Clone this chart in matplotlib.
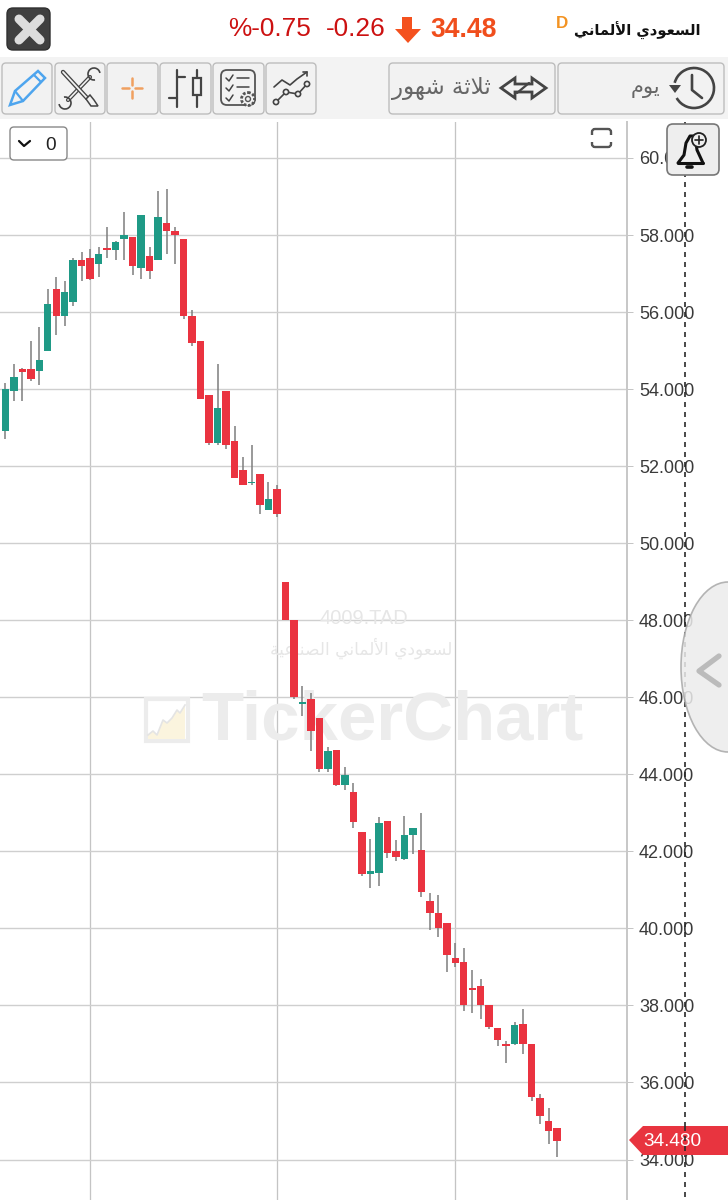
import matplotlib
matplotlib.use("Agg")
import matplotlib.pyplot as plt
from matplotlib.patches import FancyBboxPatch, Circle, Polygon, Ellipse, Arc

# ---- data ----
opens = [52.90,53.95,54.52,54.51,54.46,55.00,56.60,55.90,56.25,57.36,57.40,57.25,57.66,57.60,57.90,57.96,57.15,57.45,57.35,58.31,58.10,57.90,55.90,55.25,53.85,52.60,53.95,52.65,51.90,51.55,51.80,50.85,51.41,
         48.99,48.00,45.82,45.95,45.45,44.14,44.63,43.72,43.55,42.51,41.41,41.44,42.78,42.00,41.80,42.42,42.03,40.71,40.41,40.13,39.24,39.13,38.44,38.51,38.02,37.41,37.00,37.00,37.52,37.00,35.61,34.99,34.81]
highs = [54.15,54.66,54.54,55.24,55.60,56.60,56.90,56.80,57.40,57.55,57.64,57.70,58.21,57.85,58.60,57.96,58.51,57.70,59.15,59.20,58.21,57.90,56.05,55.25,53.85,54.66,53.95,53.05,52.25,52.55,51.80,51.60,51.50,
         48.99,48.00,46.30,46.10,45.45,44.70,44.63,44.20,43.78,42.51,42.32,42.90,42.78,42.29,42.91,42.61,43.00,40.93,40.88,40.13,39.63,39.50,38.92,38.68,38.02,37.41,37.07,37.56,37.90,37.00,35.70,35.34,34.81]
lows = [52.71,53.70,53.70,54.21,54.11,55.00,55.41,55.65,56.16,56.81,56.82,56.91,57.40,57.36,57.36,56.95,56.86,56.86,57.35,57.51,57.26,55.82,55.11,53.75,52.56,52.56,52.45,51.70,51.50,51.51,50.76,50.85,50.69,
        48.00,45.96,45.51,44.61,44.07,44.05,43.69,43.59,42.61,41.35,41.05,41.10,41.84,41.74,41.77,41.94,40.81,39.96,39.78,38.88,39.00,37.86,37.81,37.66,37.39,36.96,36.51,36.97,36.74,35.52,34.93,34.40,34.07]
closes = [54.01,54.31,54.45,54.25,54.75,56.21,55.90,56.51,57.36,57.20,56.85,57.51,57.60,57.81,58.01,57.20,58.51,57.06,58.46,58.10,58.01,55.90,55.20,53.75,52.60,53.50,52.55,51.70,51.50,51.60,51.00,51.15,50.75,
          48.00,46.01,45.89,45.12,44.14,44.61,43.72,43.97,42.77,41.41,41.50,42.74,41.96,41.86,42.42,42.61,40.94,40.40,40.00,39.32,39.10,38.01,38.40,38.01,37.45,37.10,36.96,37.49,37.00,35.63,35.14,34.74,34.48]
price_ticks = [34,36,38,40,42,44,46,48,50,52,54,56,58,60]
date_grid = [10, 32, 53]
last_price = 34.48

name_ar = "السعودي الألماني"
period_ar = "ثلاثة شهور"
interval_ar = "يوم"
company_ar = "لسعودي الألماني الصناعية"
symbol = "4009.TAD"
watermark = "TickerChart"
change_pct = "%-0.75"
change_abs = "-0.26"
price_txt = "34.48"
tag_txt = "34.480"

# ---- Arabic shaping (matplotlib has no shaper) ----
FORMS = {'ا':(0xFE8D,0xFE8E),'أ':(0xFE83,0xFE84),'و':(0xFEED,0xFEEE),'د':(0xFEA9,0xFEAA),'ر':(0xFEAD,0xFEAE),'ة':(0xFE93,0xFE94),
         'ل':(0xFEDD,0xFEDE,0xFEDF,0xFEE0),'س':(0xFEB1,0xFEB2,0xFEB3,0xFEB4),'ع':(0xFEC9,0xFECA,0xFECB,0xFECC),
         'ي':(0xFEF1,0xFEF2,0xFEF3,0xFEF4),'م':(0xFEE1,0xFEE2,0xFEE3,0xFEE4),'ن':(0xFEE5,0xFEE6,0xFEE7,0xFEE8),
         'ث':(0xFE99,0xFE9A,0xFE9B,0xFE9C),'ش':(0xFEB5,0xFEB6,0xFEB7,0xFEB8),'ه':(0xFEE9,0xFEEA,0xFEEB,0xFEEC),
         'ص':(0xFEB9,0xFEBA,0xFEBB,0xFEBC)}
LIG = {'ا':(0xFEFB,0xFEFC),'أ':(0xFEF7,0xFEF8)}
def shape(s):
    out = []
    i = 0
    while i < len(s):
        c = s[i]
        if c not in FORMS:
            out.append(c); i += 1; continue
        prev = s[i-1] if i else ' '
        joined_prev = prev in FORMS and len(FORMS[prev]) == 4
        nxt = s[i+1] if i + 1 < len(s) else ' '
        if c == 'ل' and nxt in LIG:
            out.append(chr(LIG[nxt][1 if joined_prev else 0])); i += 2; continue
        f = FORMS[c]
        joins_next = len(f) == 4 and nxt in FORMS
        idx = (3 if joined_prev else 2) if joins_next else (1 if joined_prev else 0)
        out.append(chr(f[idx])); i += 1
    return ''.join(reversed(out))

LAT = "Liberation Sans"
AR = "DejaVu Sans"
GREEN, RED = "#1f9a86", "#ea3340"
GRID = "#cfcfcf"
PX = 72 / 100

fig = plt.figure(figsize=(7.28, 12), dpi=100, facecolor="white")

# ---- price chart ----
ax = fig.add_axes([0, 0, 627/728, (1200-122)/1200])
step = 8.49
ax.set_xlim(-5.3/step, (627-5.3)/step)
ax.set_ylim(60-(1200-158)/38.52, 60+36/38.52)
ax.set_axisbelow(True)
ax.set_xticks(date_grid)
ax.set_yticks(price_ticks)
ax.set_yticklabels([f"{v:.3f}" for v in price_ticks])
ax.grid(True, axis="x", color="#c4c4c4", lw=1.3*PX)
ax.grid(True, axis="y", color=GRID, lw=1.4*PX)
ax.tick_params(axis="x", length=0, labelbottom=False)
ax.yaxis.tick_right()
ax.tick_params(axis="y", length=4.5, width=0.7, color="#c4c4c4", pad=4.1, labelsize=18*PX, labelcolor="#3a3a3a")
for lab in ax.get_yticklabels():
    lab.set_fontfamily(LAT)
for name, sp in ax.spines.items():
    sp.set_visible(name == "right")
ax.spines["right"].set_color("#c8c8c8")
ax.spines["right"].set_linewidth(2.0*PX)

xs = list(range(len(opens)))
cols = [GREEN if c >= o else RED for o, c in zip(opens, closes)]
ax.vlines(xs, lows, highs, color="#7b7b7b", lw=1.5*PX, zorder=3)
ax.bar(xs, [abs(c-o) for o, c in zip(opens, closes)], bottom=[min(o, c) for o, c in zip(opens, closes)],
       width=0.88, color=cols, linewidth=0, zorder=4)

# ---- screen furniture in pixel coordinates ----
ui = fig.add_axes([0, 0, 1, 1], facecolor="none")
ui.set_xlim(0, 728); ui.set_ylim(1200, 0); ui.axis("off")

def box(x0, y0, x1, y1, fc="#f2f2f2", ec="#bdbdbd", r=4, lw=1.0, z=3):
    ui.add_patch(FancyBboxPatch((x0+r, y0+r), x1-x0-2*r, y1-y0-2*r, boxstyle=f"round,pad={r},rounding_size={r}",
                                fc=fc, ec=ec, lw=lw, zorder=z))
def ln(xs_, ys_, c="#444444", lw=1.6, z=5, **k):
    ui.plot(xs_, ys_, color=c, lw=lw, zorder=z, solid_capstyle="round", **k)

# watermark (sits under the candles)
ax.text(364, 619, symbol, transform=ui.transData, ha="center", va="center", fontsize=20*PX, color="#e6e6e6", family=LAT, zorder=1)
ax.text(361, 648, shape(company_ar), transform=ui.transData, ha="center", va="center", fontsize=17*PX, color="#e6e6e6", family=AR, zorder=1)
ax.text(201, 721, watermark, transform=ui.transData, ha="left", va="center", fontsize=69*PX, color="#ececec", family=LAT, weight="bold", zorder=1)
ax.add_patch(plt.Rectangle((146, 699), 42, 42, fc="white", ec="#ececec", lw=3, transform=ui.transData, zorder=1))
icon_x = [148, 153, 157, 163, 167, 172, 177, 180, 185, 185, 148]
icon_y = [735, 731, 735, 720, 723, 718, 710, 713, 705, 739, 739]
ax.add_patch(Polygon(list(zip(icon_x, icon_y)), fc="#fbf4de", ec="none", transform=ui.transData, zorder=1.1))
ax.plot(icon_x[:9], icon_y[:9], color="#e4e4e4", lw=1.2, transform=ui.transData, zorder=1.2)

# header
ui.add_patch(plt.Rectangle((0, 0), 728, 57, fc="white", ec="none", zorder=1))
ui.add_patch(plt.Rectangle((0, 57), 728, 62, fc="#f3f3f3", ec="none", zorder=2))
box(7, 8, 50, 50, fc="#404040", ec="#303030", r=6)
ln([19, 40], [19, 40], c="#dddddd", lw=6.5)
ln([40, 19], [19, 40], c="#dddddd", lw=6.5)
ui.text(228, 29, change_pct, ha="left", va="center", fontsize=26.2*PX, color="#cc1111", family=LAT)
ui.text(326, 29, change_abs, ha="left", va="center", fontsize=26.2*PX, color="#cc1111", family=LAT)
ui.add_patch(Polygon([(402, 17), (412, 17), (412, 29), (421, 29), (408, 43), (395, 29), (402, 29)], fc="#f4511e", ec="none", zorder=5))
ui.text(430, 30, price_txt, ha="left", va="center", fontsize=26.5*PX, color="#f04e1c", family=LAT, weight="bold", zorder=5)
ui.text(562, 24, "D", ha="center", va="center", fontsize=17*PX, color="#f39322", family=LAT, weight="bold", zorder=5)
ui.text(701, 31, shape(name_ar), ha="right", va="center", fontsize=14.7*PX, color="#111111", family=AR, weight="bold", zorder=5)

# toolbar buttons
for x0, x1 in [(2, 52), (55, 105), (107, 158), (160, 211), (213, 264), (266, 316), (389, 555), (558, 724)]:
    box(x0, 63, x1, 114)
# pencil
ui.add_patch(Polygon([(10, 105), (15, 91), (38, 71), (45, 78), (23, 101)], fc="none", ec="#4ea5ee", lw=1.8, zorder=5))
ln([15, 23], [91, 101], c="#4ea5ee", lw=1.6)
ln([34, 41], [75, 82], c="#4ea5ee", lw=1.6)
# tools: wrench then brush
ln([90, 68], [77, 100], lw=3.0); ln([90, 68], [77, 100], c="#f2f2f2", lw=1.2, z=5.1)
ui.add_patch(Arc((94, 74), 12, 12, theta1=80, theta2=350, ec="#444444", lw=1.2, zorder=6))
ui.add_patch(Arc((65, 103), 12, 12, theta1=260, theta2=170, ec="#444444", lw=1.2, zorder=6))
ln([63, 87], [72, 98], lw=3.2, z=6.2); ln([63, 87], [72, 98], c="#f2f2f2", lw=1.3, z=6.3)
ui.add_patch(Polygon([(86, 99), (90, 95), (94, 100), (98, 106), (91, 106)], fc="#f2f2f2", ec="#444444", lw=1.1, zorder=6.4))
# crosshair
for xx, yy in [((122, 129), (88, 88)), ((135, 142), (88, 88)), ((132, 132), (78, 85)), ((132, 132), (91, 98))]:
    ln(xx, yy, c="#f0a060", lw=1.8)
# bars & candle
ln([177, 177], [70, 107]); ln([177, 185], [77, 77]); ln([169, 177], [98, 98])
ln([197, 197], [70, 78]); ln([197, 197], [95, 107])
ui.add_patch(plt.Rectangle((193, 78), 8, 17, fc="none", ec="#444444", lw=1.6, zorder=5))
# checklist + gear
box(221, 70, 255, 105, fc="none", ec="#555555", r=6, lw=1.3, z=5)
for yy in (78, 88, 98):
    ln([226, 229, 233], [yy, yy+3, yy-3], lw=1.1)
ln([237, 249], [78, 78], lw=1.1); ln([237, 249], [87, 87], lw=1.1)
ui.add_patch(Circle((248, 99), 6.5, fc="#f2f2f2", ec="#555555", lw=2.0, ls=(0, (1, 0.6)), zorder=6))
ui.add_patch(Circle((248, 99), 2.5, fc="#f2f2f2", ec="#555555", lw=1.0, zorder=7))
# line studies
ln([274, 282, 290, 297, 307], [87, 80, 85, 79, 72], lw=1.2)
ln([303, 307, 307], [72, 72, 76], lw=1.2)
ln([276, 286, 298, 307], [102, 92, 94, 84], lw=1.2)
for cx, cy in [(276, 102), (286, 92), (298, 94), (307, 84)]:
    ui.add_patch(Circle((cx, cy), 2.6, fc="#f2f2f2", ec="#444444", lw=1.2, zorder=6))
# period
ui.text(491, 88, shape(period_ar), ha="right", va="center", fontsize=23*PX, color="#666666", family=AR, zorder=5)
ui.add_patch(Polygon([(501, 88), (515, 78), (515, 84), (532, 84), (532, 78), (546, 88), (532, 98), (532, 92), (515, 92), (515, 98)],
                     fc="none", ec="#444444", lw=2.0, zorder=5))
ln([517, 529], [93, 83], lw=1.6)
# interval
ui.text(660, 88, shape(interval_ar), ha="right", va="center", fontsize=21*PX, color="#666666", family=AR, zorder=5)
ui.add_patch(Arc((694, 88), 40, 40, theta1=-165, theta2=150, ec="#444444", lw=1.9, zorder=5))
ui.add_patch(Polygon([(669, 85), (681, 85), (675, 93)], fc="#444444", ec="none", zorder=5))
ln([692, 692, 702], [75, 90, 98], lw=1.9)

# dropdown and expand icon
box(10, 127, 67, 160, fc="white", ec="#888888", r=4, lw=1.0)
ln([19, 24, 30], [141, 146, 141], c="#111111", lw=1.6)
ui.text(51, 145, "0", ha="center", va="center", fontsize=19*PX, color="#222222", family=LAT, zorder=5)
box(592, 129, 611, 147, fc="none", ec="#555555", r=3, lw=1.7, z=5)
ui.add_patch(plt.Rectangle((590, 134.5), 23, 7, fc="white", ec="none", zorder=6))

# crosshair line
ui.plot([685, 685], [122, 1200], color="#2a2a2a", lw=1.2, ls=(0, (3, 3)), zorder=3.5)

# current price tag
ui.add_patch(Polygon([(629, 1140), (643, 1126), (728, 1126), (728, 1155), (643, 1155)], fc="#e8343f", ec="none", zorder=3.6))
ui.text(643, 1141, tag_txt, ha="left", va="center", fontsize=19*PX, color="white", family=LAT, zorder=3.7)
ui.plot([685, 685], [1126, 1155], color="#2a2a2a", lw=1.2, ls=(0, (3, 3)), zorder=3.8)

# side handle, alert
ui.add_patch(Ellipse((728, 667), 94, 170, fc="#ececec", ec="#a8a8a8", lw=1.2, alpha=0.85, zorder=3.9))
ln([719, 699, 719], [656, 671, 685], c="#bbbbbb", lw=3.8, z=4)
box(667, 124, 719, 175, fc="#eeeeee", ec="#777777", r=6, lw=1.2, z=4)
ln([678, 684, 686, 690, 695, 697, 703], [163, 155, 143, 136, 136, 150, 163], c="#111111", lw=2.2)
ln([678, 703], [163, 163], c="#111111", lw=2.2)
ln([687, 692], [167, 167], c="#111111", lw=2.6)
ui.add_patch(Circle((699, 140), 7, fc="#eeeeee", ec="#222222", lw=1.3, zorder=6))
ln([695, 703], [140, 140], c="#222222", lw=1.2, z=7); ln([699, 699], [136, 144], c="#222222", lw=1.2, z=7)

fig.savefig("out.png", dpi=100)
